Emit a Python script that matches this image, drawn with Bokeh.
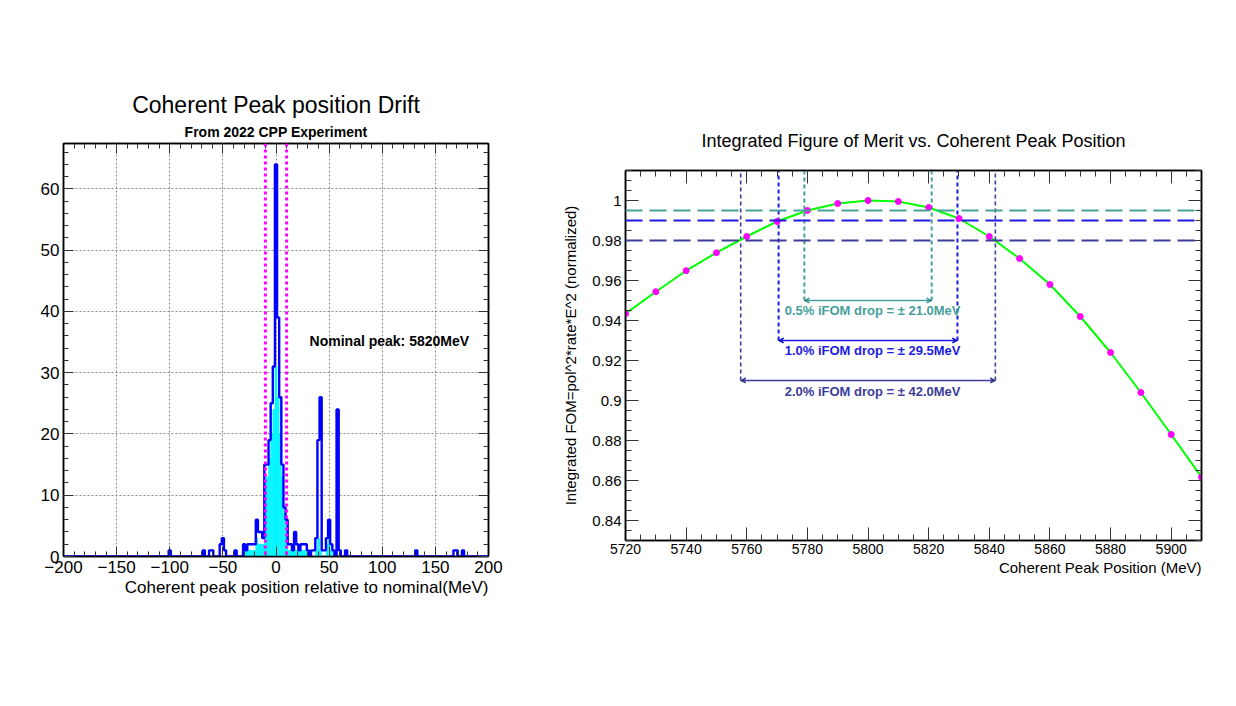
import numpy as np
from bokeh.plotting import figure
from bokeh.models import (Range1d, FixedTicker, LinearAxis, Title, Span, Label, Arrow,
                          VeeHead, CustomJSTickFormatter)
from bokeh.layouts import row
from bokeh.embed import file_html
from bokeh.resources import INLINE

FONT = "Liberation Sans"

# ---------------- Left panel data: histogram of peak drift ----------------
BIN_WIDTH = 2
all_centers = [-100, -68, -62, -60, -52, -50, -48, -38,
               -30, -28, -26, -24, -22, -20, -18, -16, -14, -12,
               -10, -8, -6, -4, -2, 0, 2, 4, 6, 8, 10,
               12, 14, 16, 18, 20, 22, 24, 26, 28, 30,
               34, 36, 38, 40, 42, 44, 46, 48, 50, 52, 54, 58, 60, 66,
               132, 168, 170, 176]
all_counts = [1, 1, 1, 1, 2, 3, 1, 1,
              2, 1, 2, 2, 2, 2, 6, 4, 4, 3,
              15, 15, 19, 25, 31, 64, 39, 26, 15, 8, 6,
              2, 2, 1, 4, 2, 1, 2, 2, 2, 1,
              1, 1, 3, 19, 26, 1, 1, 3, 6, 2, 1, 24, 1, 1,
              1, 1, 1, 1]
sub_centers = [-30, -28, -26, -24, -22, -20, -18, -16, -14, -12,
               -10, -8, -6, -4, -2, 0, 2, 4, 6, 8, 10,
               12, 14, 16, 18, 20, 22, 24, 26, 28,
               38, 40, 42, 48, 50, 52]
sub_counts = [1, 1, 1, 1, 1, 1, 3, 2, 2, 2,
              12, 13, 16, 20, 24, 31, 26, 20, 13, 7, 4,
              1, 1, 1, 1, 1, 1, 1, 1, 1,
              1, 3, 1, 2, 4, 1]
window_edges = [-10, 10]
left_x_ticks = [-200, -150, -100, -50, 0, 50, 100, 150, 200]
left_y_ticks = [0, 10, 20, 30, 40, 50, 60]
nominal_text = "Nominal peak: 5820MeV"

# ---------------- Right panel data: integrated FOM ----------------
peak_pos = [5720, 5730, 5740, 5750, 5760, 5770, 5780, 5790, 5800, 5810,
            5820, 5830, 5840, 5850, 5860, 5870, 5880, 5890, 5900, 5910]
ifom = [0.9434, 0.9544, 0.9649, 0.9739, 0.9820, 0.9895, 0.9950, 0.9985, 1.0000, 0.9995,
        0.9965, 0.9910, 0.9820, 0.9710, 0.9580, 0.9420, 0.9240, 0.9040, 0.8830, 0.8617]
drop_pct = ["0.5%", "1.0%", "2.0%"]
drop_level = [0.995, 0.990, 0.980]
half_width = [21.0, 29.5, 42.0]
arrow_level = [0.950, 0.930, 0.910]
label_level = [0.945, 0.925, 0.9045]
drop_colors = ["#46a09a", "#1c1ce0", "#3c3c9a"]
peak_center = 5800
right_x_ticks = [5720, 5740, 5760, 5780, 5800, 5820, 5840, 5860, 5880, 5900]
right_y_ticks = [0.84, 0.86, 0.88, 0.90, 0.92, 0.94, 0.96, 0.98, 1.00]

blank_fmt = CustomJSTickFormatter(code="return '';")


def style_axis(ax, size, show_labels=True, tin=10, min_in=5, standoff=4):
    ax.major_tick_in = tin
    ax.major_tick_out = 0
    ax.minor_tick_in = min_in
    ax.minor_tick_out = 0
    ax.axis_line_color = "black"
    ax.axis_line_width = 1.5
    ax.major_tick_line_color = "#333333"
    ax.minor_tick_line_color = "#333333"
    ax.major_label_text_font = FONT
    ax.major_label_text_color = "black"
    ax.axis_label_text_font = FONT
    ax.axis_label_text_color = "black"
    ax.axis_label_text_font_style = "normal"
    ax.major_label_text_font_size = size
    if show_labels:
        ax.major_label_standoff = standoff
    else:
        ax.formatter = blank_fmt
        ax.major_label_standoff = 0


minus_fmt = CustomJSTickFormatter(code="return (tick < 0 ? '\u2212' : '') + Math.abs(tick);")
plain_fmt = CustomJSTickFormatter(code="return String(Math.round(tick*1000)/1000);")

# ======================= Left figure =======================
p1 = figure(width=548, height=700, x_range=Range1d(-200, 200), y_range=Range1d(0, 67.4),
            output_backend="svg", toolbar_location=None, frame_align=False,
            min_border_left=63, min_border_right=60, min_border_top=143, min_border_bottom=144)
p1.outline_line_color = "black"
p1.outline_line_width = 1.5

xt1 = FixedTicker(ticks=left_x_ticks, minor_ticks=list(range(-200, 201, 10)))
yt1 = FixedTicker(ticks=left_y_ticks, minor_ticks=list(range(0, 68, 2)))
p1.xaxis.ticker = xt1
p1.yaxis.ticker = yt1
p1.xaxis.formatter = minus_fmt
p1.yaxis.formatter = minus_fmt
style_axis(p1.xaxis[0], "17px")
style_axis(p1.yaxis[0], "17px")
top1 = LinearAxis(ticker=xt1)
right1 = LinearAxis(ticker=yt1)
style_axis(top1, "10px", False)
style_axis(right1, "10px", False)
p1.add_layout(top1, "above")
p1.add_layout(right1, "right")
for g in (p1.xgrid[0], p1.ygrid[0]):
    g.grid_line_color = "#8a8a8a"
    g.grid_line_dash = "2 2"
    g.grid_line_width = 1
p1.xgrid.ticker = xt1
p1.ygrid.ticker = yt1

# histogram outline (full binning)
edges = np.arange(-201, 202, BIN_WIDTH)
full = np.zeros(len(edges) - 1)
for c, n in zip(all_centers, all_counts):
    full[(c + 200) // BIN_WIDTH] = n
sub_c = np.array(sub_centers)
p1.quad(left=sub_c - BIN_WIDTH / 2, right=sub_c + BIN_WIDTH / 2, bottom=0, top=sub_counts,
        fill_color="#00ffff", line_color="#00e0ff", line_width=0.5)
p1.step(x=np.append(edges[:-1], edges[-1]), y=np.append(full, full[-1]), mode="after",
        line_color="#0000ff", line_width=2.4)

for e in window_edges:
    p1.add_layout(Span(location=e, dimension="height", line_color="#ff00ff",
                       line_width=3, line_dash="3 3"))

p1.add_layout(Label(x=31.6, y=35.2, text=nominal_text, text_font=FONT, text_font_size="14px",
                    text_font_style="bold", text_color="black",
                    text_baseline="middle", text_align="left"))

p1.add_layout(Title(text="Coherent peak position relative to nominal(MeV)", align="right",
                    text_font=FONT, text_font_size="17px", text_font_style="normal",
                    text_color="black", standoff=0), "below")
p1.add_layout(Title(text="From 2022 CPP Experiment", align="center", text_font=FONT,
                    text_font_size="14px", text_font_style="bold", text_color="black",
                    standoff=8), "above")
p1.add_layout(Title(text="Coherent Peak position Drift", align="center", text_font=FONT,
                    text_font_size="23px", text_font_style="normal", text_color="black",
                    standoff=0), "above")

# ======================= Right figure =======================
p2 = figure(width=682, height=700, x_range=Range1d(5720, 5910), y_range=Range1d(0.83, 1.015),
            output_backend="svg", toolbar_location=None, frame_align=False,
            min_border_left=77, min_border_right=29, min_border_top=170, min_border_bottom=160)
p2.outline_line_color = "black"
p2.outline_line_width = 1.5
p2.grid.visible = False

xt2 = FixedTicker(ticks=right_x_ticks, minor_ticks=list(range(5720, 5911, 5)))
yt2 = FixedTicker(ticks=right_y_ticks, minor_ticks=[round(0.83 + 0.005 * i, 3) for i in range(38)])
p2.xaxis.ticker = xt2
p2.yaxis.ticker = yt2
p2.xaxis.formatter = plain_fmt
p2.yaxis.formatter = plain_fmt
style_axis(p2.xaxis[0], "14px", tin=13, min_in=6, standoff=3)
style_axis(p2.yaxis[0], "15px", tin=13, min_in=6)
p2.yaxis.axis_label = "Integrated FOM=pol^2*rate*E^2 (normalized)"
p2.yaxis.axis_label_text_font_size = "15px"
p2.yaxis.axis_label_standoff = 10
top2 = LinearAxis(ticker=xt2)
right2 = LinearAxis(ticker=yt2)
style_axis(top2, "10px", False, tin=13, min_in=6)
style_axis(right2, "10px", False, tin=13, min_in=6)
p2.add_layout(top2, "above")
p2.add_layout(right2, "right")

for lvl, col in zip(drop_level, drop_colors):
    p2.add_layout(Span(location=lvl, dimension="width", line_color=col,
                       line_width=2, line_dash="17 7"))

top_y = p2.y_range.end
for pct, hw, ay, ly, col, k in zip(drop_pct, half_width, arrow_level, label_level, drop_colors, range(3)):
    xs = [peak_center - hw, peak_center + hw]
    p2.segment(x0=xs, y0=[ay, ay], x1=xs, y1=[top_y, top_y], line_color=col,
               line_width=2 if k < 2 else 1.6, line_dash="4 3")
    p2.add_layout(Arrow(x_start=xs[0], y_start=ay, x_end=xs[1], y_end=ay,
                        line_color=col, line_width=1.3,
                        start=VeeHead(size=5, line_color=col, line_width=1.3),
                        end=VeeHead(size=5, line_color=col, line_width=1.3)))
    p2.add_layout(Label(x=peak_center + 1.5, y=ly, text=f"{pct} iFOM drop = \u00b1 {hw:.1f}MeV",
                        text_font=FONT, text_font_size="13px", text_font_style="bold",
                        text_color=col, text_align="center", text_baseline="middle"))

p2.line(peak_pos, ifom, line_color="#00ff00", line_width=2)
p2.scatter(peak_pos, ifom, size=6, color="#ff00ff")

p2.add_layout(Title(text="Coherent Peak Position (MeV)", align="right", text_font=FONT,
                    text_font_size="15px", text_font_style="normal", text_color="black",
                    standoff=0), "below")
p2.add_layout(Title(text="Integrated Figure of Merit vs. Coherent Peak Position", align="center",
                    text_font=FONT, text_font_size="18px", text_font_style="normal",
                    text_color="black", standoff=39), "above")

layout = row(p1, p2)
open("out.html", "w").write(file_html(layout, INLINE))
